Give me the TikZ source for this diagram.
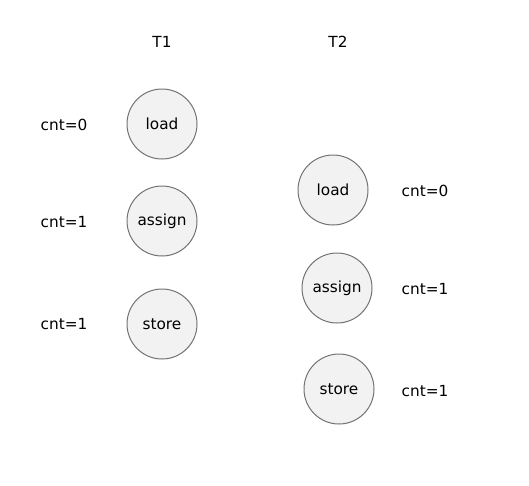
\documentclass[tikz,border=0pt]{standalone}
\usepackage{fontspec}
\setmainfont{DejaVu Sans}
\begin{document}
\begin{tikzpicture}[x=1pt,y=-1pt,
  op/.style={circle,draw=black!55,fill=black!5,line width=1pt,minimum size=70pt,inner sep=0pt,font=\fontsize{15.3}{18}\selectfont},
  lbl/.style={font=\fontsize{15.3}{18}\selectfont}]
        \useasboundingbox (0,0) rectangle (529,485);
        \node[lbl] (t1) at (162,42) {T1};
        \node[lbl] (t2) at (338,42) {T2};
        \node[op] (load1) at (162,124) {load};
        \node[op] (assign1) at (162,221) {assign};
        \node[op] (store1) at (162,324) {store};
        \node[op] (load2) at (333,190) {load};
        \node[op] (assign2) at (337,288) {assign};
        \node[op] (store2) at (339,389) {store};
        \foreach \n/\y/\v in {a/125/0,b/222/1,c/324/1}{%
        \node[lbl] (cntl\n) at (64,\y) {cnt=\v};
        }
        \foreach \n/\y/\v in {a/191/0,b/289/1,c/391/1}{%
        \node[lbl] (cntr\n) at (425,\y) {cnt=\v};
        }
      \end{tikzpicture}
\end{document}
